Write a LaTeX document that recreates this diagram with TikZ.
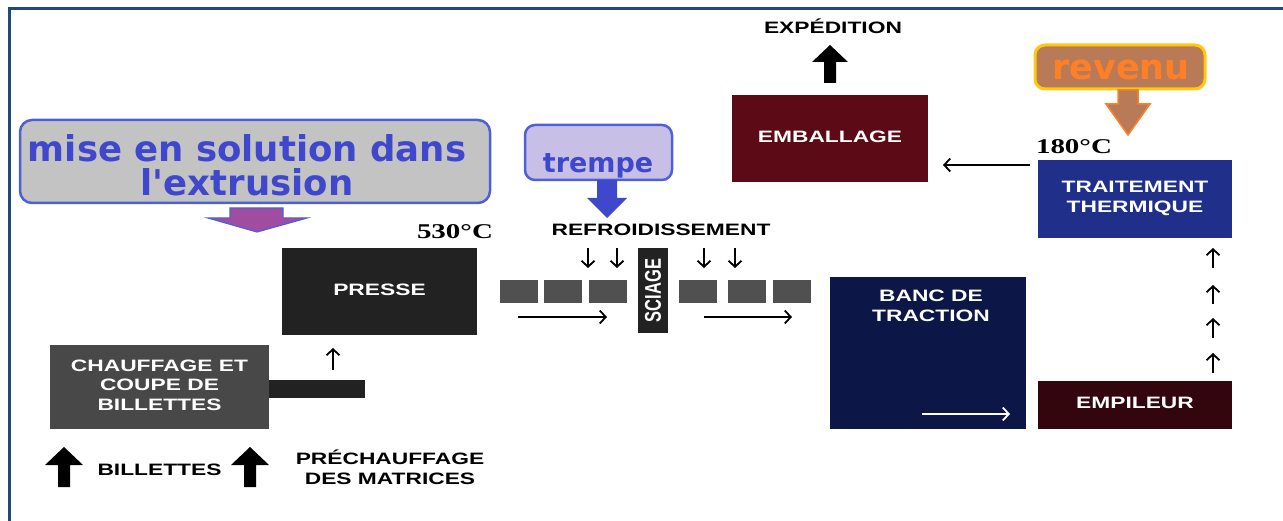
\documentclass[tikz,border=0pt]{standalone}
\usepackage{graphicx}
\usepackage{fontspec}
\setmainfont{Liberation Sans}
\newfontfamily\dvs{DejaVu Sans}
\newfontfamily\tms{Liberation Serif}
\usetikzlibrary{arrows.meta}
\definecolor{framec}{HTML}{1F497D}
\definecolor{misefill}{HTML}{C3C3C3}
\definecolor{bluebord}{HTML}{4F5FD8}
\definecolor{bluetxt}{HTML}{3F48CC}
\definecolor{purp}{HTML}{A04CA0}
\definecolor{lav}{HTML}{C8BFE7}
\definecolor{revfill}{HTML}{B97A57}
\definecolor{revbord}{HTML}{FFC90E}
\definecolor{orng}{HTML}{FF7F27}
\definecolor{presc}{HTML}{222222}
\definecolor{chaufc}{HTML}{484848}
\definecolor{sqc}{HTML}{505050}
\definecolor{embc}{HTML}{5B0A16}
\definecolor{traitc}{HTML}{1F2F8A}
\definecolor{bancc}{HTML}{0D1747}
\definecolor{empc}{HTML}{33060D}
\newcommand\sx[1]{\scalebox{1.38}[1]{\begin{tabular}{@{}c@{}}#1\end{tabular}}}
\begin{document}
\begin{tikzpicture}[x=1pt,y=-1pt,
  blk/.style={inner sep=0pt, outer sep=0pt, draw=none, font=\fontsize{16.5}{20}\selectfont\bfseries, text=white},
  sqr/.style={blk, fill=sqc, minimum width=38pt, minimum height=23pt},
  lbl/.style={inner sep=0pt, font=\fontsize{16.5}{20}\selectfont\bfseries, text=black},
  tms/.style={inner sep=0pt, font=\fontsize{21}{24}\tms\bfseries, text=black},
  tarr/.style={line width=1.8pt, -{Straight Barb[length=6pt,width=13pt,line width=1.8pt]}},
  bigtxt/.style={inner sep=0pt, font=\fontsize{35.5}{30}\dvs\bfseries, anchor=base}]
\useasboundingbox (0,0) rectangle (1283,521);
% frame
\draw[framec, line width=3pt] (9,521) -- (9,9) -- (1283,9);

% mise en solution
\node[draw=bluebord, line width=2.5pt, fill=misefill, rounded corners=12pt, minimum width=470pt, minimum height=83pt, inner sep=0pt] (misebox) at (255,161.5) {};
\node[bigtxt, text=bluetxt] (mise1) at (247,162) {mise en solution dans};
\node[bigtxt, text=bluetxt] (mise2) at (247,196) {l'extrusion};
\filldraw[fill=purp, draw=bluebord, line width=1.2pt] (230,208) -- (283,208) -- (283,218) -- (307,218) -- (257,232) -- (208,218) -- (230,218) -- cycle;

% trempe
\node[draw=bluebord, line width=2.5pt, fill=lav, rounded corners=10pt, minimum width=147pt, minimum height=55pt, inner sep=0pt] (trempebox) at (598.5,152.5) {};
\node[inner sep=0pt, font=\fontsize{27}{30}\dvs\bfseries, text=bluetxt, anchor=base] (trempetxt) at (598,173) {trempe};
\fill[bluetxt] (597,180) -- (617,180) -- (617,198) -- (627,198) -- (607,218) -- (587,198) -- (597,198) -- cycle;

% revenu
\node[draw=revbord, line width=3pt, fill=revfill, rounded corners=10pt, minimum width=170pt, minimum height=44pt, inner sep=0pt] (revbox) at (1120,67) {};
\node[inner sep=0pt, font=\fontsize{35}{36}\dvs\bfseries, text=orng, anchor=base] (revtxt) at (1121,80) {revenu};
\filldraw[fill=revfill, draw=orng, line width=1.5pt] (1118,90) -- (1138,90) -- (1138,104) -- (1150,104) -- (1128,135) -- (1106,104) -- (1118,104) -- cycle;

% expedition
\node[lbl] (exped) at (833,29) {\sx{EXPÉDITION}};
\fill[black] (824,83) -- (824,62) -- (812,62) -- (830,45) -- (848,62) -- (836,62) -- (836,83) -- cycle;

% main boxes
\node[blk, fill=embc, minimum width=196pt, minimum height=87pt] (emb) at (830,138.5) {\sx{EMBALLAGE}};
\node[blk, fill=traitc, minimum width=194pt, minimum height=78pt] (trait) at (1135,199) {\sx{TRAITEMENT\\THERMIQUE}};
\node[tms] (t180) at (1074,147) {\scalebox{1.38}[1]{180°C}};
\node[blk, fill=presc, minimum width=195pt, minimum height=87pt] (presse) at (379.5,291.5) {\sx{PRESSE}};
\node[tms] (t530) at (455,232) {\scalebox{1.38}[1]{530°C}};
\node[blk, fill=chaufc, minimum width=219pt, minimum height=84pt] (chauf) at (159.5,387) {\sx{CHAUFFAGE ET\\COUPE DE\\BILLETTES}};
\node[blk, fill=presc, minimum width=96pt, minimum height=18pt] (bar) at (317,389) {};
\node[blk, fill=bancc, minimum width=196pt, minimum height=152pt] (banc) at (928,353) {};
\node[blk] (banctxt) at (931,307.5) {\sx{BANC DE\\TRACTION}};
\node[blk, fill=empc, minimum width=194pt, minimum height=48pt] (emp) at (1135,405) {\sx{EMPILEUR}};
\node[blk, fill=presc, minimum width=30pt, minimum height=85pt] (sciage) at (653,290.5) {\rotatebox{90}{\scalebox{1}[1.38]{SCIAGE}}};

% squares
\node[sqr] (sq1) at (519,292) {};
\node[sqr] (sq2) at (563,292) {};
\node[sqr] (sq3) at (608,292) {};
\node[sqr] (sq4) at (698,292) {};
\node[sqr] (sq5) at (746.5,292) {};
\node[sqr] (sq6) at (792,292) {};

\node[lbl] (refr) at (661,232) {\sx{REFROIDISSEMENT}};

% arrows
\draw[tarr] (588,248) -- (588,268);
\draw[tarr] (617,248) -- (617,268);
\draw[tarr] (704,248) -- (704,268);
\draw[tarr] (735,248) -- (735,268);
\draw[tarr] (518,317) -- (607,317);
\draw[tarr] (704,317) -- (792,317);
\draw[tarr, white] (922,414) -- (1010,414);
\draw[tarr, shorten <=8pt, shorten >=15pt] ([yshift=-5pt]trait.north west) -- ([yshift=-5pt]trait.north west -| emb.east);
\coordinate (cpx) at (333,0);
\draw[tarr, shorten <=10pt, shorten >=13pt] (bar.north -| cpx) -- (presse.south -| cpx);
\draw[tarr] (1213,373) -- (1213,353);
\draw[tarr] (1213,338) -- (1213,318);
\draw[tarr] (1213,304) -- (1213,285);
\draw[tarr] (1213,268) -- (1213,248);

% bottom
\fill[black] (58,487) -- (58,465) -- (45,465) -- (64,447) -- (83,465) -- (70,465) -- (70,487) -- cycle;
\fill[black] (244,487) -- (244,465) -- (231,465) -- (250,447) -- (269,465) -- (256,465) -- (256,487) -- cycle;
\node[lbl] (bill) at (159.5,471) {\sx{BILLETTES}};
\node[lbl] (prech) at (390,470) {\sx{PRÉCHAUFFAGE\\DES MATRICES}};
\end{tikzpicture}
\end{document}
